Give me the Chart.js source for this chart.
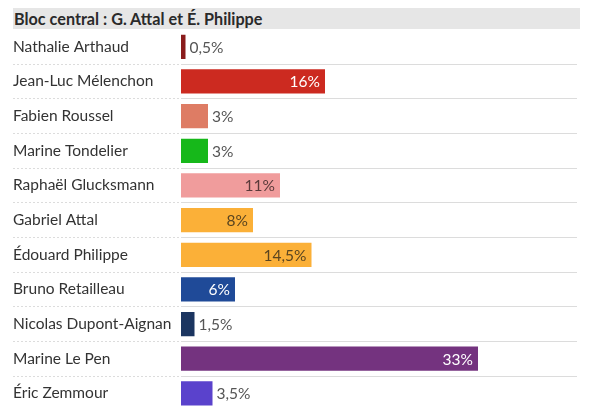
<!DOCTYPE html>
<html>
<head>
<meta charset="utf-8">
<script src="https://cdn.jsdelivr.net/npm/chart.js@4.4.1/dist/chart.umd.min.js"></script>
<style>
  body { margin: 0; background: #fff; }
  #wrap { position: relative; width: 600px; height: 420px; }
  #title {
    position: absolute; left: 13px; top: 8px; width: 567px; height: 21px;
    background: #e6e6e6; font: bold 16.2px Lato, sans-serif; color: #2a2a2a;
    line-height: 22px; padding-left: 1px; box-sizing: border-box;
  }
</style>
</head>
<body>
<div id="wrap">
  <canvas id="votes" width="600" height="420"></canvas>
  <div id="title">Bloc central : G. Attal et É. Philippe</div>
</div>
<script>
const candidates = ['Nathalie Arthaud', 'Jean-Luc Mélenchon', 'Fabien Roussel', 'Marine Tondelier',
  'Raphaël Glucksmann', 'Gabriel Attal', 'Édouard Philippe', 'Bruno Retailleau',
  'Nicolas Dupont-Aignan', 'Marine Le Pen', 'Éric Zemmour']
const scores = [0.5, 16, 3, 3, 11, 8, 14.5, 6, 1.5, 33, 3.5]

const barColors = ['#8a1c1c', '#cc2a20', '#de7c64', '#16b81a', '#f09c9c', '#fbb038',
  '#fbb038', '#1f4a98', '#1b3560', '#74337f', '#5a42cc']
const insideText = ['', '#fff', '', '', '#5a3a3a', '#5a4520', '#5a4520', '#fff', '', '#fff', '']

// value labels, inside the bar when there is room
const valueLabels = {
  id: 'valueLabels',
  afterDatasetsDraw(chart) {
    const ctx = chart.ctx
    const meta = chart.getDatasetMeta(0)
    ctx.save()
    ctx.font = '15.5px Lato, sans-serif'
    ctx.textBaseline = 'middle'
    meta.data.forEach((bar, i) => {
      const txt = String(scores[i]).replace('.', ',') + '%'
      if (insideText[i]) {
        ctx.fillStyle = insideText[i]
        ctx.textAlign = 'right'
        ctx.fillText(txt, bar.x - 5, bar.y + 1)
      } else {
        ctx.fillStyle = '#555'
        ctx.textAlign = 'left'
        ctx.fillText(txt, bar.x + 4, bar.y + 1)
      }
    })
    ctx.restore()
  }
}

new Chart(document.querySelector('#votes'), {
  type: 'bar',
  data: {
    labels: candidates,
    datasets: [{
      data: scores,
      backgroundColor: barColors,
      barPercentage: 0.7,
      categoryPercentage: 1
    }]
  },
  options: {
    indexAxis: 'y',
    responsive: false,
    animation: false,
    layout: { padding: { top: 29.5, bottom: 6, left: 13, right: 23 } },
    plugins: { legend: { display: false }, tooltip: { enabled: false } },
    scales: {
      x: { display: false, min: 0, max: 44 },
      y: {
        afterFit: (scale) => { scale.width = 168 },
        border: { display: false },
        grid: {
          offset: true,
          color: (c) => (c.index === 0 || c.index === undefined) ? 'rgba(0,0,0,0)' : '#dcdcdc',
          lineWidth: 1,
          borderDash: [2, 2],
          tickBorderDash: [2, 2],
          tickLength: 168
        },
        ticks: {
          crossAlign: 'far',
          padding: 0,
          color: '#333',
          font: { family: 'Lato, sans-serif', size: 15.5 }
        }
      }
    }
  },
  plugins: [valueLabels]
})
</script>
</body>
</html>
